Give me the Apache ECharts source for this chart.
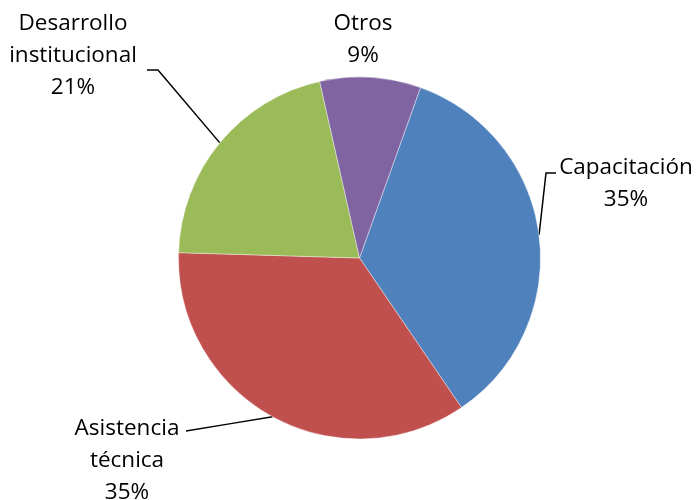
<!DOCTYPE html>
<html>
<head>
<meta charset="utf-8">
<script src="https://cdn.jsdelivr.net/npm/echarts@6/dist/echarts.min.js"></script>
<style>
  html, body { margin: 0; padding: 0; background: #fff; }
  #chart { width: 697px; height: 500px; }
</style>
</head>
<body>
<div id="chart"></div>
<script>
// data
const categories = ['Capacitación', 'Asistencia\ntécnica', 'Desarrollo\ninstitucional', 'Otros']
const values = [35, 35, 21, 9]
const colors = ['#4F81BD', '#C0504D', '#9BBB59', '#8064A2']

// where each label block sits, and where its leader line bends / ends
const labelSpots = [
  { x: 626, y: 184, bend: [546, 173], end: [556, 173] },
  { x: 127, y: 461, bend: null, end: [186, 431] },
  { x: 73, y: 56, bend: [158, 70], end: [147, 70] },
  { x: 363, y: 40, bend: null, end: null }
]

const chart = echarts.init(document.getElementById('chart'))

chart.setOption({
  backgroundColor: '#fff',
  animation: false,
  color: colors,
  series: [{
    type: 'pie',
    center: [359.5, 258],
    radius: 181,
    startAngle: 70.3,
    clockwise: true,
    itemStyle: { borderColor: '#fff', borderWidth: 0.4 },
    label: {
      show: true,
      formatter: '{b}\n{d}%',
      fontFamily: 'Open Sans',
      fontSize: 22.5,
      lineHeight: 32,
      color: '#000',
      align: 'center',
      overflow: 'none'
    },
    labelLine: {
      show: true,
      lineStyle: { color: '#000', width: 1.5 }
    },
    labelLayout: function (params) {
      const s = labelSpots[params.dataIndex]
      const out = { x: s.x, y: s.y, align: 'center', verticalAlign: 'middle' }
      const p0 = params.labelLinePoints ? params.labelLinePoints[0] : null
      if (p0 && s.end) {
        const mid = s.bend || [(p0[0] + s.end[0]) / 2, (p0[1] + s.end[1]) / 2]
        out.labelLinePoints = [p0, mid, s.end]
      }
      return out
    },
    data: categories.map((name, i) => ({
      name: name,
      value: values[i],
      labelLine: { show: i !== 3 }
    }))
  }]
})
</script>
</body>
</html>
